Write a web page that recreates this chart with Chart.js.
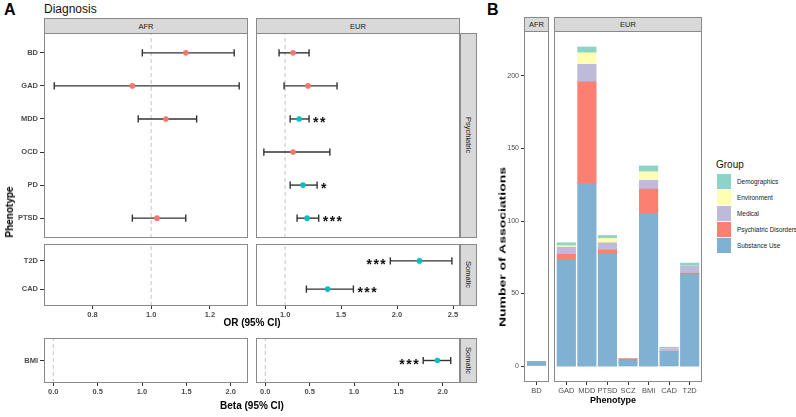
<!DOCTYPE html>
<html>
<head>
<meta charset="utf-8">
<script src="https://cdn.jsdelivr.net/npm/chart.js@4.4.1/dist/chart.umd.min.js"></script>
<style>
  body { margin: 0; background: #fff; width: 796px; height: 417px; overflow: hidden; position: relative;
         font-family: 'Liberation Sans', Arial, sans-serif; }
  canvas { position: absolute; }
  .t { position: absolute; white-space: nowrap; line-height: 1; }
  .strip { position: absolute; background: #d9d9d9; border: 1px solid #8a8a8a; box-sizing: border-box;
           font-size: 7.5px; color: #1a1a1a; display: flex; align-items: center; justify-content: center; }
  .vstrip { writing-mode: vertical-rl; }
  .key { position: absolute; width: 14px; height: 15px; }
</style>
</head>
<body>
<script>
// ---- Panel A data (forest plots) ----
const psyRows = ["BD", "GAD", "MDD", "OCD", "PD", "PTSD"];
const somRows = ["T2D", "CAD"];
const bmiRows = ["BMI"];

const afrPsyOR  = [1.118, 0.936, 1.05, null, null, 1.02];
const afrPsyLo  = [0.97, 0.67, 0.956, null, null, 0.936];
const afrPsyHi  = [1.283, 1.30, 1.155, null, null, 1.118];
const afrPsySig = ["", "", "", "", "", ""];

const eurPsyOR  = [1.071, 1.205, 1.125, 1.071, 1.16, 1.196];
const eurPsyLo  = [0.946, 0.991, 1.045, 0.81, 1.045, 1.107];
const eurPsyHi  = [1.214, 1.464, 1.214, 1.40, 1.286, 1.30];
const eurPsySig = ["", "", "**", "", "*", "***"];

const afrSomOR = [null, null], afrSomLo = [null, null], afrSomHi = [null, null], afrSomSig = ["", ""];
const eurSomOR  = [2.2, 1.38];
const eurSomLo  = [1.94, 1.19];
const eurSomHi  = [2.49, 1.61];
const eurSomSig = ["***", "***"];

const afrBmiB = [null], afrBmiLo = [null], afrBmiHi = [null], afrBmiSig = [""];
const eurBmiB   = [1.94];
const eurBmiLo  = [1.78];
const eurBmiHi  = [2.09];
const eurBmiSig = ["***"];

const afrORTicks = [0.8, 1.0, 1.2];
const eurORTicks = [1.0, 1.5, 2.0, 2.5];
const betaTicks  = [0, 0.5, 1.0, 1.5, 2.0];

// ---- Panel B data (stacked bars) ----
const groups = ["Demographics", "Environment", "Medical", "Psychiatric Disorders", "Substance Use"];
const groupColors = ["#8dd3c7", "#ffffb3", "#bebada", "#fb8072", "#80b1d3"];

const afrPheno = ["BD"];
const afrSubstance = [3];
const afrPsychiatric = [0];
const afrMedical = [0];
const afrEnvironment = [0];
const afrDemographics = [0];

const eurPheno = ["GAD", "MDD", "PTSD", "SCZ", "BMI", "CAD", "T2D"];
const eurSubstance    = [73, 126, 77, 4, 105, 10, 63];
const eurPsychiatric  = [4, 70, 3, 1, 17, 0, 1];
const eurMedical      = [5, 12, 5, 0, 6, 2, 5];
const eurEnvironment  = [1, 8, 3, 0, 6, 0, 0];
const eurDemographics = [2, 4, 2, 0, 4, 1, 2];
const countTicks = [0, 50, 100, 150, 200];

Chart.defaults.font.family = "'Liberation Sans', Arial, sans-serif";
Chart.defaults.animation = false;

const RED = "#f8766d", CYAN = "#00bfc4";

function addCanvas(left, top, w, h) {
  const c = document.createElement("canvas");
  c.width = w; c.height = h;
  c.style.left = left + "px"; c.style.top = top + "px";
  c.style.width = w + "px"; c.style.height = h + "px";
  document.body.appendChild(c);
  return c;
}

function txt(s, x, y, css, ax, extra) {
  const d = document.createElement("div");
  d.className = "t";
  d.textContent = s;
  d.style.cssText += css;
  d.style.left = x + "px"; d.style.top = y + "px";
  d.style.transform = "translate(" + (ax || "-50%") + ",-50%)" + (extra ? " " + extra : "");
  document.body.appendChild(d);
  return d;
}

function strip(s, left, top, w, h, vertical) {
  const d = document.createElement("div");
  d.className = "strip" + (vertical ? " vstrip" : "");
  d.textContent = s;
  d.style.left = left + "px"; d.style.top = top + "px";
  d.style.width = w + "px"; d.style.height = h + "px";
  document.body.appendChild(d);
}

// fixes an axis' size and drops the label overhang padding
function fixSize(prop, size) {
  return s => {
    s[prop] = s.options.display ? size : 0;
    s.paddingTop = s.paddingBottom = s.paddingLeft = s.paddingRight = 0;
  };
}

// grey panel border, taken from the scales' extent
const panelBox = {
  id: "panelBox",
  afterDraw(chart) {
    const xs = chart.scales.x, ys = chart.scales.y, ctx = chart.ctx;
    const l = Math.round(xs.left), r = Math.round(xs.right);
    const t = Math.round(ys.top), b = Math.round(ys.bottom);
    ctx.save();
    ctx.strokeStyle = "#8a8a8a";
    ctx.lineWidth = 1;
    ctx.strokeRect(l + 0.5, t + 0.5, r - l - 1, b - t - 1);
    ctx.restore();
  }
};

function forest(cv, rows, est, lo, hi, sig, xMin, xMax, ref, xTicks, showY) {
  const n = rows.length;
  const yOf = i => n - 1 - i;
  const pts = [], cols = [], bars = [];
  rows.forEach((r, i) => {
    if (est[i] == null) return;
    pts.push({ x: est[i], y: yOf(i) });
    cols.push(sig[i] ? CYAN : RED);
    bars.push({
      data: [{ x: lo[i], y: yOf(i) }, { x: hi[i], y: yOf(i) }],
      showLine: true, borderColor: "#333", borderWidth: 1.4,
      pointStyle: "line", pointRadius: 3.6, pointRotation: 90,
      pointBorderColor: "#333", pointBorderWidth: 1.4, order: 1
    });
  });

  // significance stars beside the interval
  const stars = {
    id: "stars",
    afterDatasetsDraw(chart) {
      const ctx = chart.ctx, xs = chart.scales.x, ys = chart.scales.y;
      ctx.save();
      ctx.font = "bold 14px 'Liberation Sans', Arial, sans-serif";
      ctx.fillStyle = "#111";
      if ("letterSpacing" in ctx) ctx.letterSpacing = "1.5px";
      rows.forEach((r, i) => {
        if (!sig[i]) return;
        const y = ys.getPixelForValue(yOf(i)) + 8;
        if (hi[i] > xMax - 0.15 * (xMax - xMin)) {
          ctx.textAlign = "right";
          ctx.fillText(sig[i], xs.getPixelForValue(lo[i]) - 3, y);
        } else {
          ctx.textAlign = "left";
          ctx.fillText(sig[i], xs.getPixelForValue(hi[i]) + 4, y);
        }
      });
      ctx.restore();
    }
  };

  return new Chart(cv, {
    type: "scatter",
    data: {
      datasets: [
        { data: pts, pointBackgroundColor: cols, pointBorderWidth: 0, pointRadius: 2.8, order: 0 },
        ...bars,
        { data: [{ x: ref, y: -0.6 }, { x: ref, y: n - 0.4 }], showLine: true,
          borderColor: "#c4c4c4", borderDash: [4, 3], borderWidth: 1, pointRadius: 0, order: 2 }
      ]
    },
    options: {
      responsive: false,
      layout: { padding: 0, autoPadding: false },
      plugins: { legend: { display: false }, tooltip: { enabled: false } },
      scales: {
        x: {
          type: "linear", min: xMin, max: xMax, display: !!xTicks,
          afterBuildTicks: s => { if (xTicks) s.ticks = xTicks.map(v => ({ value: v })); },
          afterFit: fixSize("height", 14),
          grid: { drawOnChartArea: false, tickLength: 3, tickColor: "#333" },
          border: { display: false },
          ticks: { padding: 1, color: "#4d4d4d", font: { size: 7.5, weight: "bold" },
                   autoSkip: false, maxRotation: 0, callback: v => v.toFixed(1) }
        },
        y: {
          type: "linear", min: -0.6, max: n - 0.4, display: showY,
          afterBuildTicks: s => { s.ticks = rows.map((r, i) => ({ value: i })); },
          afterFit: fixSize("width", 44),
          grid: { drawOnChartArea: false, tickLength: 4, tickColor: "#333" },
          border: { display: false },
          ticks: { padding: 2, color: "#4d4d4d", font: { size: 7.5, weight: "bold" },
                   autoSkip: false, callback: v => rows[n - 1 - Math.round(v)] }
        }
      }
    },
    plugins: [panelBox, stars]
  });
}

function stacked(cv, pheno, series, showY) {
  const order = [4, 3, 2, 1, 0]; // Substance Use at the bottom
  return new Chart(cv, {
    type: "bar",
    data: {
      datasets: order.map(k => ({
        label: groups[k],
        data: series[k].map((v, i) => ({ x: i + 1, y: v })),
        backgroundColor: groupColors[k],
        borderWidth: 0,
        barThickness: 18.5
      }))
    },
    options: {
      responsive: false,
      layout: { padding: 0, autoPadding: false },
      plugins: { legend: { display: false }, tooltip: { enabled: false } },
      scales: {
        x: {
          type: "linear", min: 0.4, max: pheno.length + 0.6, stacked: true, offset: false,
          afterBuildTicks: s => { s.ticks = pheno.map((p, i) => ({ value: i + 1 })); },
          afterFit: fixSize("height", 14),
          grid: { offset: false, drawOnChartArea: false, tickLength: 3, tickColor: "#333" },
          border: { display: false },
          ticks: { padding: 1, color: "#4d4d4d", font: { size: 7.5 }, maxRotation: 0, autoSkip: false,
                   callback: v => pheno[Math.round(v) - 1] }
        },
        y: {
          type: "linear", min: -11, max: 231, stacked: true, display: showY,
          afterBuildTicks: s => { s.ticks = countTicks.map(v => ({ value: v })); },
          afterFit: fixSize("width", 44),
          grid: { drawOnChartArea: false, tickLength: 3, tickColor: "#333" },
          border: { display: false },
          ticks: { padding: 2, color: "#4d4d4d", font: { size: 7 }, autoSkip: false }
        }
      }
    },
    plugins: [panelBox]
  });
}

// ---- Panel A ----
txt("A", 4, 10, "font-size:16px;font-weight:bold;color:#000;", "0");
txt("Diagnosis", 44, 9, "font-size:12px;color:#111;", "0");
strip("AFR", 44, 18, 204, 16);
strip("EUR", 256, 18, 204, 16);
strip("Psychiatric", 460, 33, 17, 205, true);
strip("Somatic", 460, 244, 17, 62, true);
strip("Somatic", 460, 338, 17, 45, true);

forest(addCanvas(0, 33, 248, 205), psyRows, afrPsyOR, afrPsyLo, afrPsyHi, afrPsySig, 0.635, 1.33, 1, null, true);
forest(addCanvas(256, 33, 204, 205), psyRows, eurPsyOR, eurPsyLo, eurPsyHi, eurPsySig, 0.74, 2.5625, 1, null, false);
forest(addCanvas(0, 244, 248, 76), somRows, afrSomOR, afrSomLo, afrSomHi, afrSomSig, 0.635, 1.33, 1, afrORTicks, true);
forest(addCanvas(256, 244, 204, 76), somRows, eurSomOR, eurSomLo, eurSomHi, eurSomSig, 0.74, 2.5625, 1, eurORTicks, false);
forest(addCanvas(0, 338, 248, 59), bmiRows, afrBmiB, afrBmiLo, afrBmiHi, afrBmiSig, -0.1045, 2.1945, 0, betaTicks, true);
forest(addCanvas(256, 338, 204, 59), bmiRows, eurBmiB, eurBmiLo, eurBmiHi, eurBmiSig, -0.1045, 2.1945, 0, betaTicks, false);

txt("OR (95% CI)", 252, 323, "font-size:10px;font-weight:bold;color:#000;");
txt("Beta (95% CI)", 252, 406, "font-size:10px;font-weight:bold;color:#000;");
txt("Phenotype", 10, 212, "font-size:10px;font-weight:bold;color:#000;", "-50%", "rotate(-90deg)");

// ---- Panel B ----
txt("B", 487, 10, "font-size:16px;font-weight:bold;color:#000;", "0");
strip("AFR", 524, 17, 25, 15);
strip("EUR", 554, 17, 148, 15);

stacked(addCanvas(480, 31, 69, 365), afrPheno,
        [afrDemographics, afrEnvironment, afrMedical, afrPsychiatric, afrSubstance], true);
stacked(addCanvas(554, 31, 148, 365), eurPheno,
        [eurDemographics, eurEnvironment, eurMedical, eurPsychiatric, eurSubstance], false);

txt("Phenotype", 613, 400, "font-size:9px;font-weight:bold;color:#000;");
txt("Number of Associations", 503, 247, "font-size:9px;font-weight:bold;color:#000;", "-50%",
    "rotate(-90deg) scaleX(1.55)");

// legend
txt("Group", 716, 165, "font-size:10px;color:#111;", "0");
groups.forEach((g, k) => {
  const key = document.createElement("div");
  key.className = "key";
  key.style.left = "717px";
  key.style.top = (174 + k * 16) + "px";
  key.style.background = groupColors[k];
  document.body.appendChild(key);
  txt(g, 737, 182 + k * 16, "font-size:6.4px;color:#1a1a1a;", "0");
});
</script>
</body>
</html>
